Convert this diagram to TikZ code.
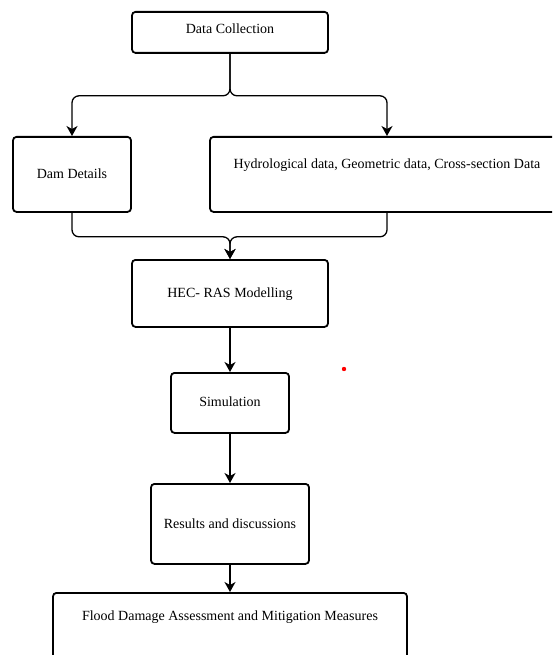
\documentclass[tikz,border=0pt]{standalone}
\usepackage{fontspec}
\setmainfont{Liberation Serif}
\usetikzlibrary{arrows.meta}

\begin{document}
\begin{tikzpicture}[x=1pt,y=1pt]
	\tikzstyle{every node}+=[inner sep=0pt, font=\fontsize{14}{16}\selectfont]
	\tikzstyle{blk}=[draw=black, line width=1.8pt, rounded corners=3.5pt, anchor=north]
	\tikzstyle{conn}=[draw=black, line width=1.3pt, rounded corners=7pt, -{Stealth[length=10pt,width=11pt,inset=3pt]}]
	\useasboundingbox (0,0) rectangle (552,-655);
	\clip (0,0) rectangle (552,-655);
	\node [blk, minimum width=196pt, text height=22pt, text depth=19pt] (dc) at (230,-11) {Data Collection};
	\node [blk, minimum width=118pt, text height=42pt, text depth=33pt] (dam) at (72,-136) {Dam Details};
	\node [blk, minimum width=354pt, text height=32pt, text depth=43pt] (hyd) at (387,-136) {Hydrological data, Geometric data, Cross-section Data};
	\node [blk, minimum width=196pt, text height=38pt, text depth=29pt] (hec) at (230,-259) {HEC- RAS Modelling};
	\node [blk, minimum width=118pt, text height=34pt, text depth=26pt] (sim) at (230,-372) {Simulation};
	\node [blk, minimum width=158pt, text height=45pt, text depth=35pt] (res) at (230,-483) {Results and discussions};
	\node [blk, minimum width=354pt, text height=28pt, text depth=52pt] (fld) at (230,-592) {Flood Damage Assessment and Mitigation Measures};
	\draw [conn] (dc.south) -- ++(0,-42) -| (dam.north);
	\draw [conn] (dc.south) -- ++(0,-42) -| (hyd.north);
	\draw [conn] (dam.south) -- ++(0,-24) -| (hec.north);
	\draw [conn] (hyd.south) -- ++(0,-24) -| (hec.north);
	\draw [conn] (hec.south) -- (sim.north);
	\draw [conn] (sim.south) -- (res.north);
	\draw [conn] (res.south) -- (fld.north);
	\fill [red] (344,-369) circle (2.2);
\end{tikzpicture}
\end{document}
